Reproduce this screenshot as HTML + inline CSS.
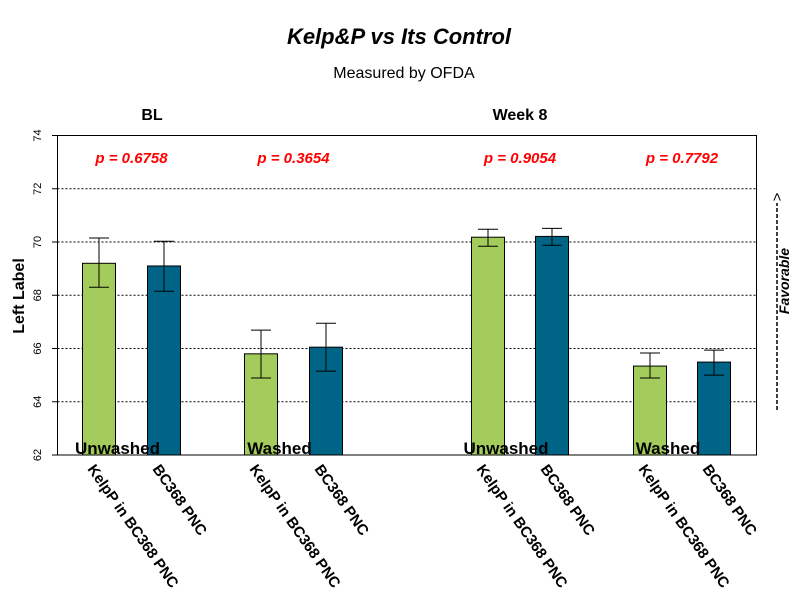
<!DOCTYPE html>
<html><head><meta charset="utf-8"><style>
body{margin:0;background:#fff;width:800px;height:600px;overflow:hidden}
svg text{font-family:"Liberation Sans",Arial,sans-serif}
</style></head><body>
<svg id="chart" width="800" height="600">
<text x="399" y="44" text-anchor="middle" font-size="22" font-weight="bold" font-style="italic">Kelp&amp;P vs Its Control</text>
<text x="404" y="78" text-anchor="middle" font-size="16">Measured by OFDA</text>
<text x="152" y="120" text-anchor="middle" font-size="16" font-weight="bold">BL</text>
<text x="520" y="120" text-anchor="middle" font-size="16" font-weight="bold">Week 8</text>
<text transform="translate(24,296) rotate(-90)" text-anchor="middle" font-size="16" font-weight="bold">Left Label</text>
<g>
<line x1="777" y1="410" x2="777" y2="203" stroke="#000" stroke-width="1.5" stroke-dasharray="4,2"/>
<text transform="translate(782,197) rotate(-90)" text-anchor="middle" font-size="15">&gt;</text>
<text transform="translate(789,281) rotate(-90)" text-anchor="middle" font-size="14" font-weight="bold" font-style="italic">Favorable</text>
</g>
<g id="grid"></g><g id="bars"></g><g id="axis"></g>
<rect x="57.5" y="135.5" width="699" height="319.5" fill="none" stroke="#000"/>
</svg>
<script>
const categories=["KelpP in BC368 PNC","BC368 PNC","KelpP in BC368 PNC","BC368 PNC","KelpP in BC368 PNC","BC368 PNC","KelpP in BC368 PNC","BC368 PNC"];
const means=[69.2,69.1,65.8,66.05,70.18,70.21,65.34,65.49];
const upper=[70.15,70.03,66.69,66.95,70.48,70.51,65.83,65.94];
const lower=[68.3,68.15,64.89,65.15,69.84,69.88,64.89,65.0];
const yTicks=[62,64,66,68,70,72,74];
const groupLabels=["Unwashed","Washed","Unwashed","Washed"];
const pValues=["p = 0.6758","p = 0.3654","p = 0.9054","p = 0.7792"];
const centers=[99,164,261,326,488,552,650,714];
const colors=["#a3cc5c","#006487"];
const ns="http://www.w3.org/2000/svg";
const y=v=>455-(v-62)*(319.5/12);
function mk(tag,attrs,parent,text){const e=document.createElementNS(ns,tag);for(const k in attrs)e.setAttribute(k,attrs[k]);if(text!==undefined)e.textContent=text;document.getElementById(parent).appendChild(e);return e;}
yTicks.forEach(t=>{
 if(t>62&&t<74){const l=mk('line',{x1:57.5,x2:756.5,y1:y(t),y2:y(t),stroke:'#000','stroke-dasharray':'2,2'},'grid');
 
 }
 const tk=mk('line',{x1:52,x2:57.5,y1:y(t),y2:y(t),stroke:'#000'},'axis');
 
 
 const tx=mk('text',{transform:`translate(41,${y(t)}) rotate(-90)`,'text-anchor':'middle','font-size':11},'axis',String(t));
 
 
});
means.forEach((m,i)=>{
 const cx=centers[i];
 const r=mk('rect',{x:cx-16.5,y:y(m),width:33,height:455-y(m),fill:colors[i%2],stroke:'#000'},'bars');
 
 
 const g=mk('path',{d:`M${cx},${y(upper[i])}V${y(lower[i])}M${cx-10},${y(upper[i])}H${cx+10}M${cx-10},${y(lower[i])}H${cx+10}`,stroke:'#000',fill:'none'},'bars');
 
 
 const t=mk('text',{transform:`translate(${cx-12},${469}) rotate(55)`,'font-size':15,'font-weight':'bold'},'axis',categories[i]);
 
 
});
groupLabels.forEach((g,j)=>{
 const cx=(centers[2*j]+centers[2*j+1])/2;
 const t=mk('text',{x:cx-14,y:454,'text-anchor':'middle','font-size':17,'font-weight':'bold'},'bars',g);
 
 
 const p=mk('text',{x:cx,y:163,'text-anchor':'middle','font-size':15,'font-weight':'bold','font-style':'italic',fill:'#ff0000'},'bars',pValues[j]);
 
 
});
</script>
</body></html>
